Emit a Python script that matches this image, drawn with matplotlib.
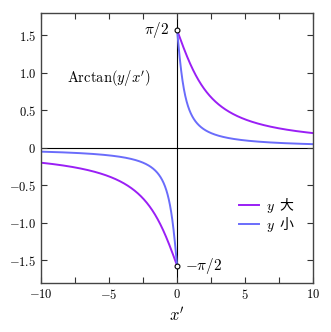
import numpy as np
import matplotlib
matplotlib.use("Agg")
import matplotlib.pyplot as plt
from matplotlib.ticker import FuncFormatter, MultipleLocator

plt.rcParams['mathtext.fontset'] = 'cm'
plt.rcParams['font.family'] = ['Noto Sans CJK SC', 'DejaVu Sans']

# data
y_values = [2.0, 0.5]
labels = ['$y$  大', '$y$  小']
colors = ['#9a1ff5', '#6a6cfb']
x_range = (-10, 10)

fig = plt.figure(figsize=(3.31, 3.32), dpi=100)
ax = fig.add_axes([0.124, 0.148, 0.822, 0.813])

xn = np.linspace(-10, -1e-4, 800)
xp = np.linspace(1e-4, 10, 800)
for yv, lab, c in zip(y_values, labels, colors):
    ax.plot(xp, np.arctan(yv / xp), color=c, lw=1.4, label=lab)
    ax.plot(xn, np.arctan(yv / xn), color=c, lw=1.4)

ax.axhline(0, color='black', lw=0.8, zorder=1)
ax.axvline(0, color='black', lw=0.8, zorder=1)

ax.plot([0, 0], [np.pi/2, -np.pi/2], 'o', ms=3.5, mfc='white', mec='black',
        mew=0.8, zorder=5, clip_on=False)
ax.text(-0.6, np.pi/2, r'$\pi/2$', ha='right', va='center', fontsize=11)
ax.text(0.6, -np.pi/2, r'$-\pi/2$', ha='left', va='center', fontsize=11)
ax.text(-5, 0.93, r"$\mathrm{Arctan}(y/x')$", ha='center', va='center', fontsize=10.5)

ax.set_xlim(*x_range)
ax.set_ylim(-1.8, 1.8)
ax.xaxis.set_major_locator(MultipleLocator(5))
ax.xaxis.set_minor_locator(MultipleLocator(2.5))
ax.yaxis.set_major_locator(MultipleLocator(0.5))

def xfmt(v, p):
    return '$%d$' % round(v)

def yfmt(v, p):
    if abs(v) < 1e-9:
        return '$0$'
    return '$%.1f$' % v

ax.xaxis.set_major_formatter(FuncFormatter(xfmt))
ax.yaxis.set_major_formatter(FuncFormatter(yfmt))
ax.tick_params(which='both', direction='in', top=True, right=True, length=4,
               width=0.8, labelsize=9, color='#333333')
for s in ax.spines.values():
    s.set_color('#444444')
    s.set_linewidth(1.0)

ax.set_xlabel("$x'$", fontsize=12, labelpad=4)

ax.legend(loc='lower right', bbox_to_anchor=(0.978, 0.135), frameon=False,
          fontsize=10, handlelength=1.45, labelspacing=0.0, handletextpad=0.5)

fig.savefig('out.png', dpi=100)
